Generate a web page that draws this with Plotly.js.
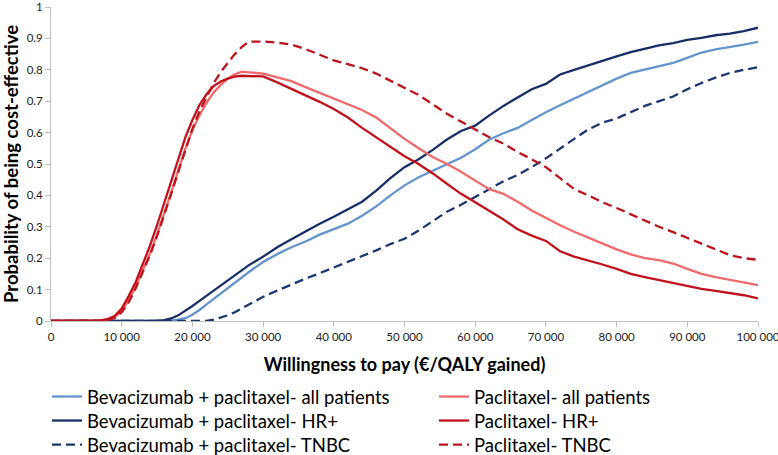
<!DOCTYPE html>
<html>
<head>
<meta charset="utf-8">
<script src="https://cdn.plot.ly/plotly-3.0.1.min.js"></script>
<style>html,body{margin:0;padding:0;background:#fff;}#chart{width:778px;height:455px;}</style>
</head>
<body>
<div id="chart"></div>
<script>
const wtp = [0,2000,4000,6000,7000,8000,9000,10000,11000,12000,13000,14000,15000,16000,17000,18000,19000,20000,21000,22000,23000,24000,25000,26000,27000,28000,30000,32000,34000,36000,38000,40000,42000,44000,46000,48000,50000,52000,54000,56000,58000,60000,62000,64000,66000,68000,70000,72000,74000,76000,78000,80000,82000,84000,86000,88000,90000,92000,94000,96000,98000,100000];

const bevAll = [0,0,0,0, 0,0,0,0,0,0,0,0,0,0,0.001,0.004,0.009,0.02,0.035,0.053,0.07,0.088,0.106,0.123,0.14,0.156,
  0.188,0.213,0.235,0.253,0.275,0.293,0.31,0.335,0.365,0.4,0.432,0.458,0.478,0.498,0.52,0.547,0.578,0.598,0.615,0.64,0.665,0.687,0.708,0.73,0.752,0.772,0.79,0.8,0.812,0.822,0.838,0.855,0.865,0.872,0.88,0.889];

const bevHR = [0,0,0,0, 0,0,0,0,0,0,0,0,0.001,0.003,0.008,0.018,0.032,0.048,0.064,0.08,0.096,0.113,0.13,0.146,0.162,0.178,
  0.205,0.235,0.26,0.285,0.31,0.332,0.355,0.38,0.415,0.455,0.49,0.515,0.545,0.578,0.605,0.622,0.655,0.685,0.712,0.738,0.755,0.785,0.8,0.815,0.83,0.843,0.856,0.868,0.878,0.885,0.895,0.902,0.91,0.915,0.923,0.934];

const bevTNBC = [0,0,0,0, 0,0,0,0,0,0,0,0,0,0,0,0,0,0,0,0,0.004,0.01,0.018,0.028,0.04,0.052,
  0.077,0.097,0.117,0.135,0.152,0.17,0.187,0.205,0.225,0.245,0.262,0.288,0.318,0.348,0.37,0.395,0.42,0.445,0.465,0.49,0.518,0.55,0.58,0.61,0.632,0.645,0.665,0.685,0.7,0.715,0.738,0.758,0.775,0.79,0.8,0.808];

const pacAll = [0,0,0,0, 0.001,0.004,0.012,0.032,0.068,0.11,0.16,0.215,0.275,0.34,0.41,0.48,0.548,0.608,0.655,0.695,0.728,0.752,0.772,0.786,0.794,0.792,
  0.788,0.776,0.764,0.745,0.727,0.71,0.692,0.672,0.648,0.613,0.58,0.55,0.522,0.5,0.475,0.447,0.42,0.405,0.38,0.352,0.328,0.305,0.284,0.265,0.245,0.228,0.212,0.2,0.194,0.183,0.166,0.15,0.14,0.131,0.123,0.114];

const pacHR = [0,0,0,0, 0.002,0.006,0.016,0.04,0.08,0.125,0.18,0.24,0.305,0.375,0.45,0.52,0.585,0.64,0.688,0.722,0.748,0.763,0.772,0.778,0.781,0.78,
  0.779,0.76,0.74,0.718,0.698,0.675,0.648,0.615,0.585,0.555,0.525,0.5,0.47,0.437,0.405,0.378,0.35,0.323,0.292,0.272,0.255,0.222,0.205,0.193,0.18,0.166,0.15,0.14,0.13,0.121,0.112,0.102,0.096,0.09,0.082,0.072];

const pacTNBC = [0,0,0,0, 0.001,0.003,0.01,0.028,0.06,0.105,0.155,0.21,0.27,0.335,0.405,0.475,0.545,0.612,0.668,0.715,0.757,0.793,0.823,0.85,0.873,0.89,
  0.89,0.887,0.88,0.866,0.848,0.83,0.818,0.805,0.788,0.765,0.742,0.72,0.69,0.66,0.635,0.61,0.585,0.565,0.538,0.515,0.49,0.455,0.42,0.4,0.378,0.36,0.34,0.318,0.3,0.283,0.265,0.248,0.23,0.21,0.2,0.195];

const names = [
  'Bevacizumab + paclitaxel- all patients',
  'Bevacizumab + paclitaxel- HR+',
  'Bevacizumab + paclitaxel- TNBC',
  'Paclitaxel- all patients',
  'Paclitaxel- HR+',
  'Paclitaxel- TNBC'
];

const FONT = 'Lato, "Open Sans", sans-serif';
const W = 2.3;

function tr(y, name, color, dash, legend, lw) {
  const t = {
    x: wtp, y: y, name: name, type: 'scatter', mode: 'lines',
    line: {color: color, width: W, dash: dash},
    legend: legend, hoverinfo: 'skip'
  };
  if (lw) t.legendwidth = lw;
  return t;
}

const data = [
  tr(bevAll, names[0], '#6395cc', 'solid', 'legend', 342),
  tr(bevHR, names[1], '#172f66', 'solid', 'legend2', 342),
  tr(bevTNBC, names[2], '#1b3670', '9px,5px', 'legend3', 342),
  tr(pacAll, names[3], '#ef6a6a', 'solid', 'legend'),
  tr(pacHR, names[4], '#c1121c', 'solid', 'legend2'),
  tr(pacTNBC, names[5], '#bb141c', '9px,5px', 'legend3')
];

function leg(yc) {
  return {
    orientation: 'h', xref: 'container', yref: 'container',
    x: 47/778, xanchor: 'left', y: 1 - yc/455, yanchor: 'middle',
    font: {family: FONT, size: 18.5, color: '#000'},
    bgcolor: 'rgba(0,0,0,0)', itemwidth: 30
  };
}

const layout = {
  width: 778, height: 455,
  margin: {l: 51, r: 20, t: 7, b: 134},
  paper_bgcolor: '#fff', plot_bgcolor: '#fff',
  separators: '. ',
  font: {family: FONT, color: '#222'},
  showlegend: true,
  legend: leg(397),
  legend2: leg(421),
  legend3: leg(445),
  xaxis: {
    range: [0, 100000], dtick: 10000, tick0: 0, tickformat: ',d',
    showgrid: false, zeroline: false,
    showline: true, linecolor: '#bfbfbf', linewidth: 1,
    ticks: 'outside', ticklen: 5, tickcolor: '#bfbfbf',
    ticklabeloverflow: 'allow',
    tickfont: {family: FONT, size: 11.5, color: '#222'},
    title: {text: 'Willingness to pay (€/QALY gained)', font: {family: FONT, size: 18, color: '#000', weight: 700}, standoff: 16},
    automargin: false, fixedrange: true
  },
  yaxis: {
    range: [0, 1], dtick: 0.1, tick0: 0,
    showgrid: false, zeroline: false,
    showline: true, linecolor: '#bfbfbf', linewidth: 1,
    ticks: 'outside', ticklen: 5, tickcolor: '#bfbfbf',
    ticklabeloverflow: 'allow',
    tickfont: {family: FONT, size: 11.5, color: '#222'},
    title: {text: 'Probability of being cost-effective', font: {family: FONT, size: 18.5, color: '#000', weight: 700}, standoff: 8},
    automargin: false, fixedrange: true
  }
};

Plotly.newPlot('chart', data, layout, {displayModeBar: false, staticPlot: true});
</script>
</body>
</html>
